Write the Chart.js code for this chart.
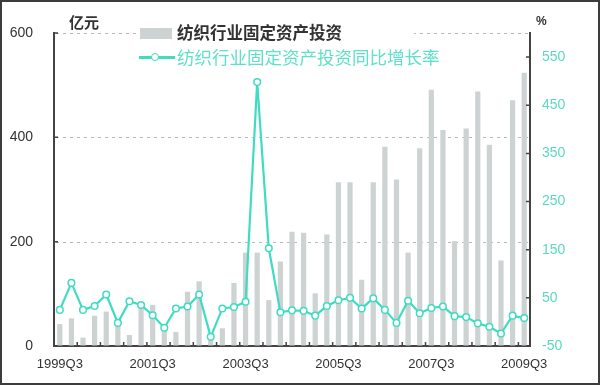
<!DOCTYPE html>
<html>
<head>
<meta charset="utf-8">
<script src="https://cdn.jsdelivr.net/npm/chart.js@4/dist/chart.umd.min.js"></script>
<style>
  html,body{margin:0;padding:0;background:#fff;}
  #wrap{position:relative;width:600px;height:385px;overflow:hidden;background:#fff;font-family:"Noto Sans CJK SC","Liberation Sans",sans-serif;}
  canvas{position:absolute;left:0;top:0;}
  .frame{position:absolute;left:0;top:0;width:600px;height:385px;box-sizing:border-box;border:2px solid #3c3c3c;pointer-events:none;}
  .t{position:absolute;white-space:nowrap;line-height:1;}
</style>
</head>
<body>
<div id="wrap">
  <canvas id="c" width="600" height="385"></canvas>
  <div class="t" style="left:69px;top:14px;font-size:15px;font-weight:bold;color:#333;">亿元</div>
  <div class="t" style="left:536px;top:15px;font-size:12px;font-weight:bold;color:#333;font-family:'Liberation Sans',sans-serif;">%</div>
  <div style="position:absolute;left:136px;top:26px;width:278px;height:38px;background:#fff;"></div>
  <div style="position:absolute;left:140px;top:28px;width:32px;height:11px;background:#cdd3d3;"></div>
  <div class="t" style="left:177px;top:24px;font-size:16.5px;font-weight:bold;color:#333;">纺织行业固定资产投资</div>
  <div style="position:absolute;left:139px;top:56px;width:36px;height:2.5px;background:#3fdcc2;"></div>
  <div style="position:absolute;left:151px;top:53px;width:6px;height:6px;border:1.5px solid #3fdcc2;border-radius:50%;background:#fff;"></div>
  <div class="t" style="left:177px;top:48px;font-size:17.5px;color:#5fe0c8;">纺织行业固定资产投资同比增长率</div>
  <div class="frame"></div>
</div>
<script>
const categories = [
  '1999Q3','1999Q4',
  '2000Q1','2000Q2','2000Q3','2000Q4',
  '2001Q1','2001Q2','2001Q3','2001Q4',
  '2002Q1','2002Q2','2002Q3','2002Q4',
  '2003Q1','2003Q2','2003Q3','2003Q4',
  '2004Q1','2004Q2','2004Q3','2004Q4',
  '2005Q1','2005Q2','2005Q3','2005Q4',
  '2006Q1','2006Q2','2006Q3','2006Q4',
  '2007Q1','2007Q2','2007Q3','2007Q4',
  '2008Q1','2008Q2','2008Q3','2008Q4',
  '2009Q1','2009Q2','2009Q3'
];
const investment = [42,53,16,58,66,38,21,73,79,30,27,104,124,15,34,121,179,179,88,162,219,217,101,214,314,314,127,314,382,319,179,379,491,414,201,417,488,386,164,471,524];
const growthRate = [25,81,25,33,57,-2,43,35,14,-12,28,32,57,-31,28,31,42,498,153,20,24,23,13,33,45,50,28,49,25,-2,44,18,29,32,12,10,-3,-10,-24,13,8];
const xTickLabels = ['1999Q3','2001Q3','2003Q3','2005Q3','2007Q3','2009Q3'];
const leftTicks = [0,200,400,600];
const rightTicks = [-50,50,150,250,350,450,550];

const dashedGrid = {
  id:'dashedGrid',
  beforeDatasetsDraw(chart){
    const ctx = chart.ctx, a = chart.chartArea, y = chart.scales.y;
    ctx.save();
    ctx.strokeStyle = '#b8b8b8';
    ctx.lineWidth = 1;
    ctx.setLineDash([3,4]);
    ctx.beginPath();
    leftTicks.filter(v=>v!==0).forEach(v=>{
      const p = Math.round(y.getPixelForValue(v)) + 0.5;
      ctx.moveTo(a.left+2, p); ctx.lineTo(a.right-1, p);
    });
    ctx.stroke();
    ctx.restore();
  }
};

const inwardTicks = {
  id:'inwardTicks',
  afterDraw(chart){
    const ctx = chart.ctx, a = chart.chartArea;
    const y = chart.scales.y, y1 = chart.scales.y1;
    ctx.save();
    ctx.strokeStyle = '#444';
    ctx.lineWidth = 1.5;
    ctx.beginPath();
    leftTicks.forEach(v=>{const p=y.getPixelForValue(v); ctx.moveTo(a.left, p); ctx.lineTo(a.left+4, p);});
    rightTicks.forEach(v=>{const p=y1.getPixelForValue(v); ctx.moveTo(a.right, p); ctx.lineTo(a.right-4, p);});
    const w = (a.right - a.left) / categories.length;
    for (let k = 2; k < categories.length; k += 2) {
      const px = a.left + k*w;
      ctx.moveTo(px, a.bottom); ctx.lineTo(px, a.bottom-4);
    }
    ctx.stroke();
    ctx.restore();
  }
};

new Chart(document.getElementById('c'), {
  data: {
    labels: categories,
    datasets: [
      {
        type:'line', label:'纺织行业固定资产投资同比增长率', data: growthRate, yAxisID:'y1', order:0,
        borderColor:'#3fdcc2', borderWidth:2.2, tension:0,
        pointRadius:3.3, pointBorderWidth:1.5, pointBackgroundColor:'#ffffff', pointBorderColor:'#3fdcc2'
      },
      {
        type:'bar', label:'纺织行业固定资产投资', data: investment, yAxisID:'y', order:1,
        backgroundColor:'#cdd3d3', barPercentage:0.45, categoryPercentage:1
      }
    ]
  },
  options: {
    responsive:false, animation:false,
    layout:{padding:{top:33,left:0,right:0,bottom:0}},
    plugins:{legend:{display:false}, tooltip:{enabled:false}},
    scales:{
      x:{
        type:'category', offset:true,
        grid:{display:false, drawTicks:false},
        border:{display:true, color:'#444', width:2},
        ticks:{autoSkip:false, maxRotation:0, padding:11, color:'#333',
          font:{family:'Liberation Sans', size:13},
          callback:function(v,i){ const l=categories[i]; return xTickLabels.includes(l)? l : ''; }},
        afterFit(s){ s.height = 39; }
      },
      y:{
        position:'left', min:0, max:600,
        afterBuildTicks(s){ s.ticks = leftTicks.map(v=>({value:v})); },
        grid:{drawTicks:false, drawOnChartArea:false},
        border:{display:true, color:'#444', width:2},
        ticks:{padding:21, color:'#333', font:{family:'Liberation Sans', size:14}},
        afterFit(s){ s.width = 54; }
      },
      y1:{
        position:'right', min:-50, max:600,
        afterBuildTicks(s){ s.ticks = rightTicks.map(v=>({value:v})); },
        grid:{display:false, drawTicks:false},
        border:{display:true, color:'#444', width:2},
        ticks:{padding:12, color:'#5ad8c0', font:{family:'Liberation Sans', size:14}},
        afterFit(s){ s.width = 70; }
      }
    }
  },
  plugins:[dashedGrid, inwardTicks]
});
</script>
</body>
</html>
